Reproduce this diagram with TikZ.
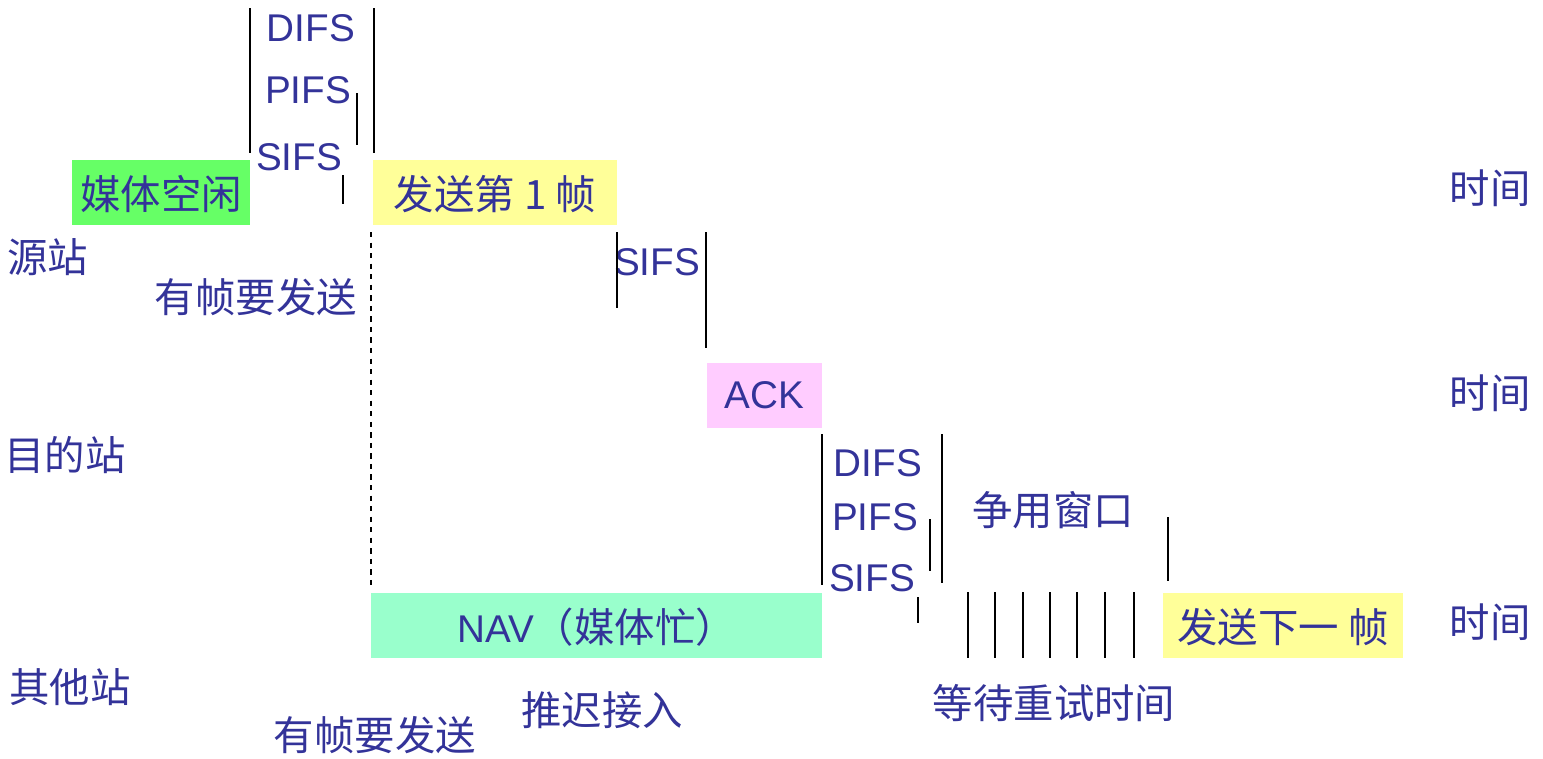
\documentclass[tikz,border=0pt]{standalone}
\usepackage{fontspec}
\setmainfont{Liberation Sans}
\newfontfamily\cjk{Noto Sans CJK SC}
\usetikzlibrary{positioning}
\definecolor{labelblue}{HTML}{333399}
\definecolor{idlegreen}{HTML}{66FF66}
\definecolor{framey}{HTML}{FFFF99}
\definecolor{ackpink}{HTML}{FFCCFF}
\definecolor{navgreen}{HTML}{99FFCC}

\begin{document}
\begin{tikzpicture}[ x = 0.02cm, y = -0.02cm
                   , font = \fontsize{22}{26}\selectfont
                   , every node/.style = { text = labelblue
                                         , inner sep = 0pt }
                   , slot/.style = { minimum height = 1.3cm
                                   , text depth = -2pt
                                   , font = \fontsize{23}{27}\selectfont\cjk }
                   , zh/.style = { font = \fontsize{23}{27}\selectfont\cjk }
                   , tick/.style = { line width = 1.1pt }
                   ]
  \useasboundingbox (0,0) rectangle (1543,758);

  %%
  %% Time slots (boxes)
  %%
  \node (idle) [slot, fill = idlegreen, minimum width = 3.56cm] at (161,192.5) {媒体空闲};
  \node (frame1) [slot, fill = framey, minimum width = 4.88cm] at (495,192.5) {发送第 1 帧};
  \node (ack) [slot, fill = ackpink, minimum width = 2.3cm] at (764.5,395)
        {\fontspec{Liberation Sans}\fontsize{22}{26}\selectfont ACK};
  \node (nav) [slot, fill = navgreen, minimum width = 9.02cm] at (596.5,625.5)
        {{\fontspec{Liberation Sans}\fontsize{22}{26}\selectfont NAV}（媒体忙）};
  \node (frame2) [slot, fill = framey, minimum width = 4.8cm] at (1283,625.5) {发送下一 帧};

  %%
  %% Stations and time axes
  %%
  \node (src) [zh] at (48,257) {源站};
  \node (dst) [zh] at (65,455) {目的站};
  \node (oth) [zh] at (70,687) {其他站};
  \node (t1) [zh] at (1490,188) {时间};
  \node (t2) [zh] at (1490,393) {时间};
  \node (t3) [zh] at (1490,622) {时间};

  %%
  %% Inter frame spaces
  %%
  \node (difs1) at (311,28) {DIFS};
  \node (pifs1) at (308,90) {PIFS};
  \node (sifs1) at (299,157) {SIFS};
  \node (sifs2) at (657,262) {SIFS};
  \node (difs2) at (878,463) {DIFS};
  \node (pifs2) at (875,517) {PIFS};
  \node (sifs3) at (872,578) {SIFS};

  % Other labels.
  \node (want1) [zh] at (256,297) {有帧要发送};
  \node (want2) [zh] at (375,735) {有帧要发送};
  \node (defer) [zh] at (602,710) {推迟接入};
  \node (cw) [zh] at (1053,510) {争用窗口};
  \node (retry) [zh] at (1054,703) {等待重试时间};

  %%
  %% Boundary marks
  %%
  \draw[tick] (250,8) -- (250,153);
  \draw[tick] (374,8) -- (374,153);
  \draw[tick] (357,93) -- (357,145);
  \draw[tick, line width = 0.8pt] (343,175) -- (343,204);
  \draw[dashed, line width = 0.7pt] (371,232) -- (371,585);

  \draw[tick] (617,232) -- (617,308);
  \draw[tick] (706,232) -- (706,348);

  \draw[tick] (822,434) -- (822,585);
  \draw[tick] (942,434) -- (942,583);
  \draw[tick] (930,519) -- (930,571);
  \draw[tick] (918,597) -- (918,623);
  \draw[tick] (1168,517) -- (1168,581);
  % Back-off slots.
  \foreach \x in {968,995,1023,1050,1077,1105,1134}
    \draw[tick] (\x,592) -- (\x,658);
\end{tikzpicture}
\end{document}
